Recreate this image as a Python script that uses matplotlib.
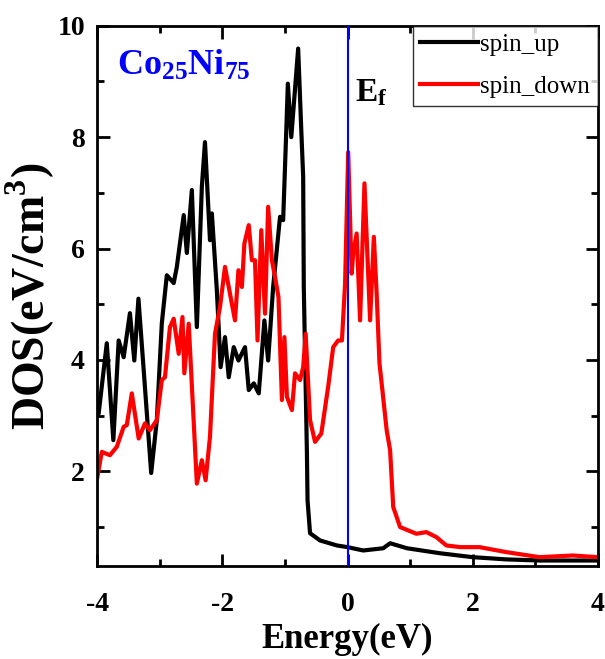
import matplotlib.pyplot as plt
import numpy as np

# spin-resolved DOS of Co25Ni75, energies relative to the Fermi level
e_up = [-4.0, -3.98, -3.85, -3.745, -3.66, -3.58, -3.48, -3.41, -3.344, -3.26,
        -3.14, -3.05, -2.97, -2.89, -2.78, -2.73, -2.62, -2.57, -2.49, -2.41,
        -2.33, -2.28, -2.20, -2.17, -2.09, -2.03, -1.96, -1.90, -1.82, -1.745,
        -1.64, -1.58, -1.50, -1.42, -1.33, -1.27, -1.19, -1.08, -1.03, -0.98,
        -0.955, -0.90, -0.79, -0.74, -0.71, -0.70, -0.65, -0.64, -0.60, -0.44,
        -0.17, 0.0, 0.25, 0.57, 0.68, 0.95, 1.48, 2.0, 2.54, 3.08, 4.0]
dos_up = [3.0, 3.04, 4.3, 2.56, 4.35, 4.05, 4.84, 3.99, 5.10, 3.82,
          1.97, 2.92, 4.66, 5.52, 5.38, 5.67, 6.60, 5.92, 7.05, 4.59,
          7.11, 7.91, 6.15, 6.63, 5.25, 3.87, 4.41, 3.69, 4.23, 3.99,
          4.23, 3.46, 3.58, 3.40, 4.71, 3.99, 5.31, 6.57, 6.51, 8.12,
          8.96, 8.00, 9.59, 8.12, 7.29, 5.31, 2.33, 1.48, 0.89, 0.76,
          0.67, 0.64, 0.58, 0.62, 0.71, 0.62, 0.53, 0.46, 0.42, 0.40, 0.40]

e_dn = [-4.0, -3.93, -3.80, -3.69, -3.58, -3.53, -3.45, -3.34, -3.24, -3.16,
        -3.05, -2.97, -2.92, -2.84, -2.78, -2.70, -2.64, -2.61, -2.54, -2.41,
        -2.33, -2.27, -2.20, -2.12, -2.04, -1.96, -1.88, -1.80, -1.745, -1.69,
        -1.65, -1.58, -1.53, -1.48, -1.44, -1.38, -1.32, -1.27, -1.21, -1.16,
        -1.105, -1.05, -1.01, -0.97, -0.89, -0.84, -0.76, -0.71, -0.67, -0.60,
        -0.52, -0.42, -0.31, -0.23, -0.15, -0.09, -0.04, 0.01, 0.065, 0.09,
        0.145, 0.20, 0.27, 0.36, 0.42, 0.465, 0.51, 0.545, 0.625, 0.68,
        0.73, 0.84, 1.10, 1.26, 1.42, 1.58, 1.80, 2.11, 2.54, 3.07, 3.60, 4.0]
dos_dn = [1.90, 2.35, 2.29, 2.44, 2.80, 2.83, 3.40, 2.59, 2.86, 2.74,
          2.92, 3.64, 3.69, 4.59, 4.74, 4.11, 4.77, 3.76, 4.65, 1.78,
          2.20, 1.84, 2.62, 4.47, 4.95, 5.67, 5.19, 4.71, 5.61, 5.31,
          6.09, 6.42, 5.79, 5.79, 4.35, 6.33, 4.83, 6.75, 5.79, 5.49,
          5.13, 3.28, 4.41, 3.34, 3.10, 3.76, 3.64, 3.87, 4.47, 2.92,
          2.53, 2.68, 3.52, 4.23, 4.35, 4.35, 5.37, 7.73, 5.55, 5.91,
          6.27, 4.71, 7.17, 4.71, 6.21, 5.19, 3.94, 3.58, 2.74, 2.38,
          1.36, 1.00, 0.88, 0.91, 0.82, 0.67, 0.64, 0.64, 0.55, 0.46, 0.49, 0.46]

plt.rcParams['font.family'] = 'Liberation Serif'
plt.rcParams['axes.unicode_minus'] = False
plt.rcParams['mathtext.fontset'] = 'custom'
plt.rcParams['mathtext.rm'] = 'Liberation Serif'
plt.rcParams['mathtext.bf'] = 'Liberation Serif:bold'

fig = plt.figure(figsize=(6.05, 6.59), dpi=100)
ax = fig.add_axes([0.161, 0.141, 0.827, 0.820])

ax.plot(e_up, dos_up, color='black', lw=3, label='spin_up')
ax.plot(e_dn, dos_dn, color='red', lw=3, label='spin_down')
ax.axvline(0, color='blue', lw=1.5, zorder=5)

ax.set_xlim(-4, 4)
ax.set_ylim(0.3, 10)
ax.set_xticks([-4, -2, 0, 2, 4])
ax.set_xticks(np.arange(-3, 4, 2), minor=True)
ax.set_yticks([2, 4, 6, 8, 10])
ax.set_yticks([1, 3, 5, 7, 9], minor=True)
ax.tick_params(which='both', direction='in', top=True, right=True, width=2)
ax.tick_params(which='major', length=9, labelsize=20)
ax.tick_params(which='minor', length=5)
ax.tick_params(axis='x', which='major', pad=19)
ax.tick_params(axis='y', which='major', pad=9)
for lab in ax.get_xticklabels() + ax.get_yticklabels():
    lab.set_fontweight('bold')
for sp in ax.spines.values():
    sp.set_linewidth(2)

ax.set_xlabel('Energy(eV)', fontsize=25, fontweight='bold', labelpad=4)
ax.set_ylabel(r'DOS(eV/cm$^\mathbf{3}$)', fontsize=33, fontweight='bold', labelpad=0)

ax.text(0.04, 0.925, r'$\mathbf{Co_{25}Ni_{75}}$', transform=ax.transAxes,
        color='blue', fontsize=26, va='center')
ax.text(0.515, 0.875, r'$\mathbf{E_f}$', transform=ax.transAxes,
        color='black', fontsize=24, va='center')

leg = ax.legend(loc='upper right', fontsize=18, frameon=True, fancybox=False,
                borderaxespad=0, handlelength=2.3, handletextpad=0.1,
                borderpad=0.3, labelspacing=0.8)
leg.get_frame().set_edgecolor('black')
leg.get_frame().set_linewidth(1)

fig.savefig('out.png', dpi=100)
